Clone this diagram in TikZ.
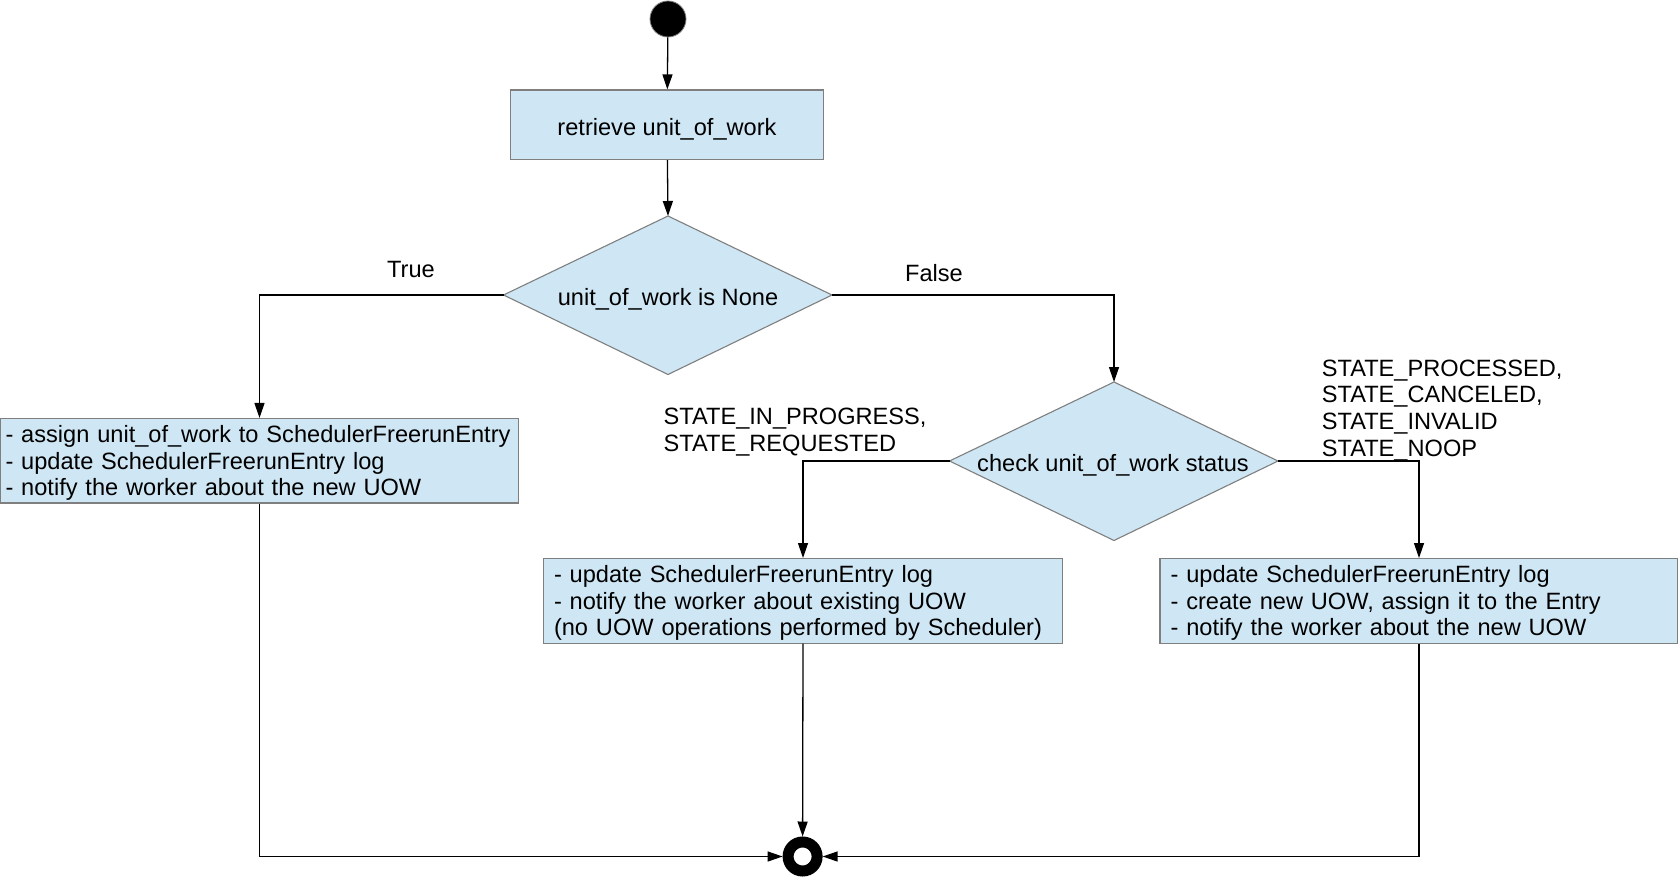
\documentclass[tikz,border=0pt]{standalone}
\usepackage{fontspec}
\setmainfont{Liberation Sans}
\usetikzlibrary{arrows.meta}
\definecolor{boxfill}{HTML}{CFE7F5}
\definecolor{boxline}{HTML}{7F7F7F}
\newcommand{\firststrut}{\rule{0pt}{21.5pt}}
\begin{document}
\begin{tikzpicture}[x=1pt,y=-1pt,
  font=\fontsize{23.6pt}{26.8pt}\selectfont,
  box/.style={draw=boxline,fill=boxfill,line width=1.1pt,rectangle,align=left,inner ysep=0pt,anchor=center},
  diashape/.style={draw=boxline,fill=boxfill,line width=1.1pt},
  dtext/.style={inner sep=0pt,text height=21.6pt,text depth=1pt},
  arr/.style={line width=1.3pt,-{Triangle[length=15pt,width=10pt]}},
  lbl/.style={inner sep=0pt,align=left}]
\useasboundingbox (0,0) rectangle (1678,877);
\node[circle,fill=black,draw=boxline,line width=0.8pt,minimum size=36pt,inner sep=0pt] (start) at (668,19) {};
\node[box,minimum width=313.5pt,minimum height=69.5pt,align=center,text height=21.6pt,text depth=1pt] (retr) at (667,124.75) {retrieve unit\_of\_work};
% diamond 1
\coordinate (d1n) at (668,216);
\coordinate (d1s) at (668,374.5);
\coordinate (d1w) at (503.5,295);
\coordinate (d1e) at (832,295);
\draw[diashape] (d1n) -- (d1e) -- (d1s) -- (d1w) -- cycle;
\node[dtext] (d1) at (668,295) {unit\_of\_work is None};
% diamond 2
\coordinate (d2n) at (1114,382);
\coordinate (d2s) at (1114,540.5);
\coordinate (d2w) at (949.5,461);
\coordinate (d2e) at (1278,461);
\draw[diashape] (d2n) -- (d2e) -- (d2s) -- (d2w) -- cycle;
\node[dtext] (d2) at (1113,461) {check unit\_of\_work status};
\node[box,text width=508pt,inner xsep=5.4pt,minimum height=84.5pt] (lb) at (259.5,460.75) {\firststrut- assign unit\_of\_work to SchedulerFreerunEntry\\- update SchedulerFreerunEntry log\\- notify the worker about the new UOW};
\node[box,text width=498pt,inner xsep=10.6pt,minimum height=84.5pt] (mb) at (803,600.8) {\firststrut- update SchedulerFreerunEntry log\\- notify the worker about existing UOW\\(no UOW operations performed by Scheduler)};
\node[box,text width=496.8pt,inner xsep=10.6pt,minimum height=84.5pt] (rb) at (1419,600.8) {\firststrut- update SchedulerFreerunEntry log\\- create new UOW, assign it to the Entry\\- notify the worker about the new UOW};
\node[circle,draw=black,line width=11pt,minimum size=29pt,inner sep=0pt] (end) at (802.6,856.5) {};
\node[lbl] (ltrue) at (411,269) {True};
\node[lbl] (lfalse) at (934,273) {False};
\node[lbl,anchor=west] (lstate1) at (663.5,432.5) {STATE\_IN\_PROGRESS,\\STATE\_REQUESTED};
\node[lbl,anchor=west] (lstate2) at (1321.7,410.5) {STATE\_PROCESSED,\\STATE\_CANCELED,\\STATE\_INVALID\\STATE\_NOOP};
\draw[arr] (start) -- (retr);
\draw[arr] (retr) -- (d1n);
\draw[arr] (d1w) -| (lb.north);
\draw[arr] (d1e) -| (d2n);
\draw[arr] (d2w) -| (mb.north);
\draw[arr] (d2e) -| (rb.north);
\draw[arr] (lb.south) |- (end.west);
\draw[arr] (rb.south) |- (end.east);
\draw[arr] (mb.south) -- (end.north);
\end{tikzpicture}
\end{document}
